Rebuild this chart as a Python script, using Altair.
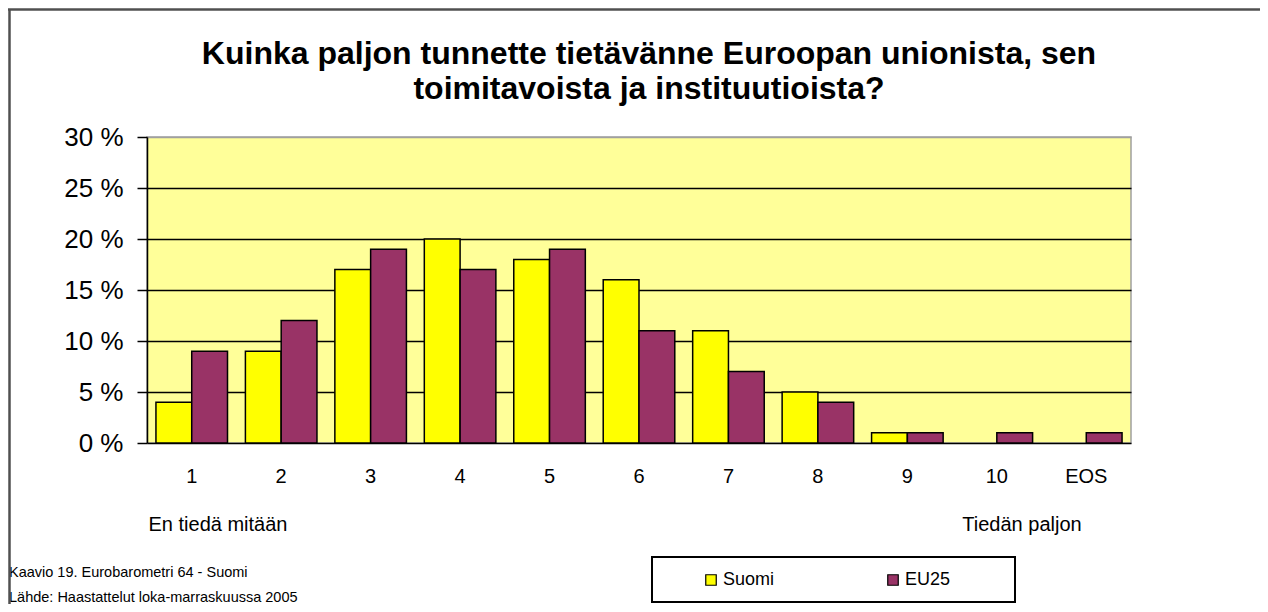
import altair as alt
import pandas as pd

categories = ["1", "2", "3", "4", "5", "6", "7", "8", "9", "10", "EOS"]
suomi = [4, 9, 17, 20, 18, 16, 11, 5, 1, 0, 0]
eu25 = [9, 12, 19, 17, 19, 11, 7, 4, 1, 1, 1]
series = ["Suomi", "EU25"]
colors = ["#FFFF00", "#993366"]
y_ticks = [0, 5, 10, 15, 20, 25, 30]
title_line1 = "Kuinka paljon tunnette tietävänne Euroopan unionista, sen"
title_line2 = "toimitavoista ja instituutioista?"
left_note = "En tiedä mitään"
right_note = "Tiedän paljon"
footnote1 = "Kaavio  19. Eurobarometri 64 - Suomi"
footnote2 = "Lähde: Haastattelut loka-marraskuussa 2005"

rows = []
for c, s, e in zip(categories, suomi, eu25):
    rows.append({"cat": c, "series": "Suomi", "value": s})
    rows.append({"cat": c, "series": "EU25", "value": e})
df = pd.DataFrame(rows)

FONT = "Liberation Sans"
W, H = 984, 306

bars = (
    alt.Chart(df)
    .transform_filter("datum.value > 0")
    .mark_bar(stroke="black", strokeWidth=1.5)
    .encode(
        x=alt.X(
            "cat:N",
            sort=categories,
            scale=alt.Scale(domain=categories, paddingInner=0.2, paddingOuter=0.1),
            axis=alt.Axis(
                title=None, labelAngle=0, ticks=False, tickSize=0, domain=False,
                labelFont=FONT, labelFontSize=20, labelColor="black",
                labelPadding=23, grid=False,
            ),
        ),
        xOffset=alt.XOffset("series:N", sort=series,
                            scale=alt.Scale(domain=series, paddingInner=0, paddingOuter=0)),
        y=alt.Y(
            "value:Q",
            scale=alt.Scale(domain=[0, 30], nice=False),
            axis=alt.Axis(
                title=None, values=y_ticks, labelExpr="datum.value + ' %'",
                labelFont=FONT, labelFontSize=26, labelColor="black", labelPadding=14,
                ticks=True, tickSize=10, tickColor="black", tickWidth=1.5,
                domain=True, domainColor="black", domainWidth=1.5,
                grid=True, gridWidth=1.5, gridOpacity=1,
                gridColor={"condition": {"test": "datum.value >= 30", "value": "#a0a0a0"},
                           "value": "black"},
            ),
        ),
        color=alt.Color(
            "series:N",
            sort=series,
            scale=alt.Scale(domain=series, range=colors),
            legend=alt.Legend(
                title=None, orient="none", legendX=555, legendY=434,
                direction="horizontal", symbolType="square", symbolSize=110,
                symbolStrokeColor="black", symbolStrokeWidth=1.2, symbolOpacity=1,
                labelFont=FONT, labelFontSize=18, labelColor="black",
                labelOffset=3, columnPadding=109, padding=0,
            ),
        ),
    )
)

def text_layer(txt, x, y, size, align="center", weight="normal"):
    return (
        alt.Chart(pd.DataFrame({"t": [txt]}))
        .mark_text(font=FONT, fontSize=size, align=align, baseline="alphabetic",
                   color="black", fontWeight=weight)
        .encode(text="t:N", x=alt.value(x), y=alt.value(y))
    )

title1 = text_layer(title_line1, 502, -73.5, 32, weight="bold")
title2 = text_layer(title_line2, 502, -38.5, 32, weight="bold")
left_t = text_layer(left_note, 71, 394, 20)
right_t = text_layer(right_note, 875, 394, 20)
foot1 = text_layer(footnote1, -138, 440, 14.5, align="left")
foot2 = text_layer(footnote2, -138, 465, 14.5, align="left")

legend_box = (
    alt.Chart(pd.DataFrame({"k": [0]}))
    .mark_rect(fill="white", stroke="black", strokeWidth=2)
    .encode(x=alt.value(505), x2=alt.value(868), y=alt.value(420), y2=alt.value(465))
)

border_left = (
    alt.Chart(pd.DataFrame({"k": [0]}))
    .mark_rule(color="#505050", strokeWidth=2.5)
    .encode(x=alt.value(-137.5), y=alt.value(-128), y2=alt.value(470))
)
border_top = (
    alt.Chart(pd.DataFrame({"k": [0]}))
    .mark_rule(color="#505050", strokeWidth=2.5)
    .encode(x=alt.value(-139), x2=alt.value(1130), y=alt.value(-127.5))
)

chart = (
    alt.layer(legend_box, bars, title1, title2, left_t, right_t, foot1, foot2,
              border_left, border_top)
    .properties(
        width=W,
        height=H,
        padding={"left": 139, "top": 129, "right": 129, "bottom": 161},
        autosize=alt.AutoSizeParams(type="none"),
        background="white",
    )
    .configure_view(fill="#FFFF99", stroke="#a0a0a0", strokeWidth=1.5)
)

chart.save("out.html", embed_options={"renderer": "svg", "actions": False})
